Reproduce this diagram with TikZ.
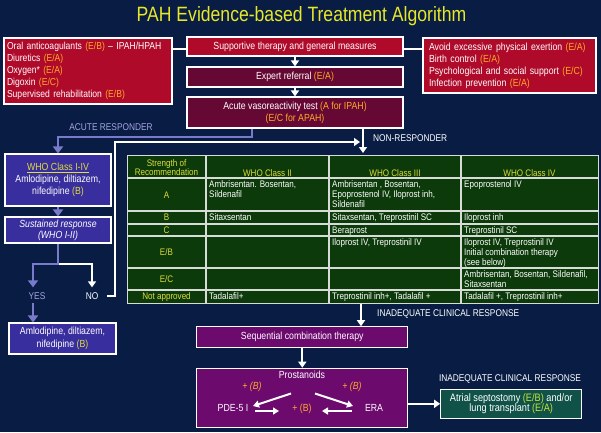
\documentclass[tikz,border=0pt]{standalone}
\usepackage{fontspec}
\setmainfont{Liberation Sans}[FakeStretch=0.85]
\usetikzlibrary{arrows.meta}
\definecolor{bg}{RGB}{8,28,68}
\definecolor{crim}{RGB}{175,10,42}
\definecolor{maroon}{RGB}{102,8,52}
\definecolor{purp}{RGB}{108,10,110}
\definecolor{bluebox}{RGB}{56,46,158}
\definecolor{conn}{RGB}{122,122,205}
\definecolor{lbl}{RGB}{165,165,225}
\definecolor{codeor}{RGB}{255,170,40}
\definecolor{tgreen}{RGB}{12,58,10}
\definecolor{tline}{RGB}{215,220,215}
\definecolor{ylw}{RGB}{222,222,60}
\definecolor{ttl}{RGB}{232,232,40}
\definecolor{tealb}{RGB}{16,82,72}
\definecolor{gcode}{RGB}{200,228,60}
\newcommand{\fs}[2]{\fontsize{#1}{#2}\selectfont}
\newcommand{\cd}[1]{\textcolor{codeor}{#1}}
\newcommand{\gc}[1]{\textcolor{gcode}{#1}}
\newcommand{\yl}[1]{\textcolor{ylw}{#1}}
\begin{document}
\begin{tikzpicture}[x=1pt,y=-1pt,
  box/.style={draw=white, line width=1.1pt, text=white, inner sep=0pt, align=center, font=\fs{10.3}{12}},
  wline/.style={draw=white, line width=2pt},
  warr/.style={wline, -{Triangle[width=8pt,length=6pt]}},
  pline/.style={draw=conn, line width=2.8pt},
  parr/.style={pline, -{Triangle[width=10pt,length=7pt]}},
  lab/.style={font=\fs{9.8}{11}, inner sep=0pt},
  cell/.style={font=\fs{9.5}{9.6}, text=white, inner sep=0pt, anchor=north west, align=left},
  hcell/.style={font=\fs{9.5}{9.6}, text=ylw, inner sep=0pt, align=center},
  intxt/.style={font=\fs{10.3}{12}, inner sep=0pt, text=white}
]
\fill[bg] (0,0) rectangle (601,432);
\useasboundingbox (0,0) rectangle (601,432);

% title
\node[text=ttl, font=\fs{20.7}{24}, inner sep=0pt, anchor=base] (title) at (301.5,21) {PAH Evidence-based Treatment Algorithm};

% top boxes
\node[box, fill=crim, minimum width=168, minimum height=66, text width=162, align=left, font=\fs{10.1}{12}] (tl) at (88,71)
  {Oral anticoagulants \cd{(E/B)} -- IPAH/HPAH\\ Diuretics \cd{(E/A)}\\ Oxygen* \cd{(E/A)}\\ Digoxin \cd{(E/C)}\\ Supervised rehabilitation \cd{(E/B)}};
\node[box, fill=crim, minimum width=216, minimum height=19] (sup) at (295,46.5) {Supportive therapy and general measures};
\node[box, fill=crim, minimum width=173, minimum height=55, text width=161, align=left] (tr) at (509.5,65.5)
  {Avoid excessive physical exertion \cd{(E/A)}\\ Birth control \cd{(E/A)}\\ Psychological and social support \cd{(E/C)}\\ Infection prevention \cd{(E/A)}};
\node[box, fill=maroon, minimum width=216, minimum height=20] (exp) at (295,77) {Expert referral \cd{(E/A)}};
\node[box, fill=maroon, minimum width=216, minimum height=31] (acu) at (295,112.5) {Acute vasoreactivity test \cd{(A for IPAH)}\\ \cd{(E/C for APAH)}};

\draw[draw=white, line width=1.4pt] ([yshift=-2.5pt]sup.west) -- ([yshift=-2.5pt]sup.west -| tl.east);
\draw[draw=white, line width=1.4pt] ([yshift=-2.5pt]sup.east) -- ([yshift=-2.5pt]sup.east -| tr.west);
\draw[warr] (sup) -- (exp);
\draw[warr] (exp) -- (acu);

% left column
\node[box, fill=bluebox, minimum width=106, minimum height=52] (who) at (58,180)
  {\yl{\underline{WHO Class I-IV}}\\ Amlodipine, diltiazem,\\ nifedipine \yl{(B)}};
\node[box, fill=bluebox, minimum width=106, minimum height=26, font=\fs{10.3}{11}\itshape] (sus) at (58,230)
  {Sustained response\\ (WHO I-II)};
\node[box, fill=bluebox, minimum width=107, minimum height=31, font=\fs{10.3}{12.5}] (aml) at (62.5,338.5)
  {Amlodipine, diltiazem,\\ nifedipine \yl{(B)}};

\coordinate (arc) at (252,137);
\draw[parr] (arc |- acu.south) -- (arc) -| (who.north);
\node[lab, text=lbl] (arl) at (111,127) {ACUTE RESPONDER};
\draw[parr] (who) -- (sus);

\coordinate (br) at (58,264);
\coordinate (ly) at (33,264);
\node[lab, text=lbl] (yes) at (37,296) {YES};
\node[lab, text=white] (no) at (92,296) {NO};
\draw[warr, line width=2.4pt, shorten >=5pt] (br) -| (no.north);
\draw[parr, shorten >=5pt] (sus.south) |- (ly) -- (ly |- yes.north);
\draw[parr] ([yshift=-3pt]yes.south -| ly) -- (aml.north -| ly);

% non responder
\coordinate (nrx) at (363,153);
\draw[warr] (nrx |- acu.south) -- (nrx);
\node[lab, text=white, anchor=west] (nrl) at (373,138) {NON-RESPONDER};
\coordinate (nj) at (115,142);
\coordinate (nt) at (360,142);
\draw[warr] ([xshift=9pt]no.east) -| (nj) -- (nt);

% table
\node[draw=tline, line width=1.3pt, fill=tgreen, minimum width=471, minimum height=148, anchor=north west, inner sep=0pt] (tbl) at (127,155) {};
\foreach \x in {206,329,461} \draw[tline, line width=1.3pt] (\x,155) -- (\x,303);
\foreach \y in {178,211,224,236,268,290} \draw[tline, line width=1.3pt] (127,\y) -- (598,\y);

\node[hcell] (h1) at (166.5,167.5) {Strength of\\ Recommendation};
\node[hcell] (h2) at (267.5,173) {WHO Class II};
\node[hcell] (h3) at (395,173) {WHO Class III};
\node[hcell] (h4) at (529.5,173) {WHO Class IV};
\node[hcell] (rA) at (166.5,195) {A};
\node[hcell] (rB) at (166.5,217.5) {B};
\node[hcell] (rC) at (166.5,230) {C};
\node[hcell] (rEB) at (166.5,252) {E/B};
\node[hcell] (rEC) at (166.5,279) {E/C};
\node[hcell] (rNA) at (166.5,296.7) {Not approved};

\node[cell] (c2A) at (209,180.8) {Ambrisentan. Bosentan,\\ Sildenafil};
\node[cell] (c2B) at (209,213.8) {Sitaxsentan};
\node[cell] (c2N) at (209,292.8) {Tadalafil+};
\node[cell] (c3A) at (332,180.8) {Ambrisentan , Bosentan,\\ Epoprostenol IV, Iloprost inh,\\ Sildenafil};
\node[cell] (c3B) at (332,213.8) {Sitaxsentan, Treprostinil SC};
\node[cell] (c3C) at (332,226.8) {Beraprost};
\node[cell] (c3E) at (332,238.8) {Iloprost IV, Treprostinil IV};
\node[cell] (c3N) at (332,292.8) {Treprostinil inh+, Tadalafil +};
\node[cell] (c4A) at (464,180.8) {Epoprostenol IV};
\node[cell] (c4B) at (464,213.8) {Iloprost inh};
\node[cell] (c4C) at (464,226.8) {Treprostinil SC};
\node[cell] (c4E) at (464,238.8) {Iloprost IV, Treprostinil IV\\ Initial combination therapy\\ (see below)};
\node[cell] (c4F) at (464,270.8) {Ambrisentan, Bosentan, Sildenafil,\\ Sitaxsentan};
\node[cell] (c4N) at (464,292.8) {Tadalafil +, Treprostinil inh+};

% bottom
\coordinate (ia) at (361,0);
\node[box, fill=purp, minimum width=211, minimum height=20.5] (seq) at (302.3,337) {Sequential combination therapy};
\draw[warr] (tbl.south -| ia) -- (seq.north -| ia);
\node[lab, text=white, anchor=west] (ial) at (377,314) {INADEQUATE CLINICAL RESPONSE};
\node[box, fill=purp, minimum width=211, minimum height=59.5] (pro) at (302.3,398) {};
\draw[warr] (seq) -- (pro);

\node[intxt] (prt) at (302,374.5) {Prostanoids};
\node[intxt, text=codeor, font=\fs{10.3}{12}\itshape] (bl) at (252,387) {+ (B)};
\node[intxt, text=codeor, font=\fs{10.3}{12}\itshape] (brr) at (352,387) {+ (B)};
\node[intxt] (pde) at (233,408) {PDE-5 I};
\node[intxt, text=codeor] (pbm) at (302,409) {+ (B)};
\node[intxt] (era) at (374,408) {ERA};
\begin{scope}[every path/.style={draw=white, line width=2pt, -{Triangle[width=7pt,length=6pt]}}]
\draw ([shift={(-11,19)}]prt.center) -- ([shift={(20,-2)}]pde.center);
\draw ([shift={(13,19)}]prt.center) -- ([shift={(-21,-2)}]era.center);
\draw ([shift={(22,3)}]pde.center) -- ([shift={(-23,2)}]pbm.center);
\draw ([shift={(-22,3)}]era.center) -- ([shift={(20,2)}]pbm.center);
\end{scope}

\node[box, fill=tealb, minimum width=141, minimum height=29, font=\fs{10.8}{10.5}] (atr) at (511.2,403.8)
  {Atrial septostomy \gc{(E/B)} and/or\\ lung transplant \gc{(E/A)}};
\draw[warr] (pro.east |- atr.west) -- (atr.west);
\node[lab, text=white] (ial2) at (510,379) {INADEQUATE CLINICAL RESPONSE};
\end{tikzpicture}
\end{document}
